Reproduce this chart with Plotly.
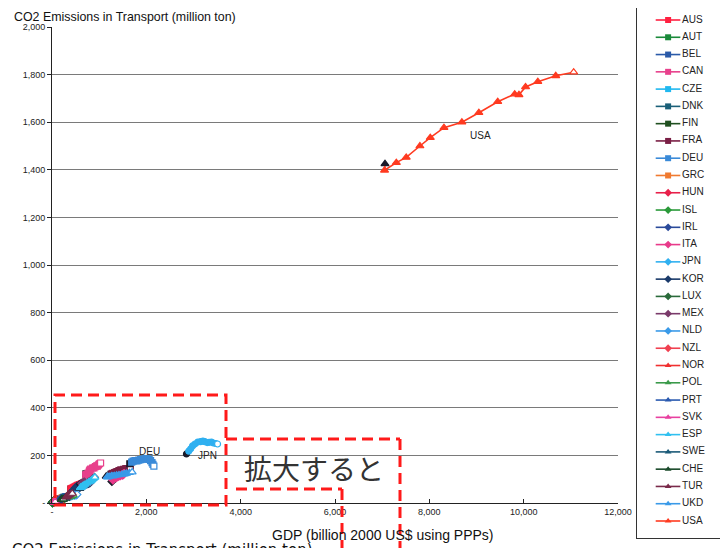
import plotly.graph_objects as go

# ---------------- data (GDP billion 2000 US$ PPP, transport CO2 million ton) ----------------
countries = ["AUS", "AUT", "BEL", "CAN", "CZE", "DNK", "FIN", "FRA", "DEU", "GRC",
             "HUN", "ISL", "IRL", "ITA", "JPN", "KOR", "LUX", "MEX", "NLD", "NZL",
             "NOR", "POL", "PRT", "SVK", "ESP", "SWE", "CHE", "TUR", "UKD", "USA"]

AUS_x = [400, 400, 420, 430, 450, 470, 490, 510, 530, 550, 560, 580, 590, 610, 630]
AUS_y = [58, 58, 60, 62, 64, 66, 68, 70, 72, 74, 74, 75, 77, 78, 80]
AUT_x = [180, 190, 200, 210, 220, 230, 240, 245]
AUT_y = [14, 16, 16, 17, 18, 20, 22, 24]
BEL_x = [230, 240, 250, 260, 270, 285, 295, 305]
BEL_y = [20, 21, 22, 23, 24, 25, 26, 27]
CAN_x = [720, 715, 735, 765, 790, 800, 820, 860, 890, 920, 950, 960, 985, 1005, 1030]
CAN_y = [122, 118, 120, 126, 133, 138, 142, 147, 148, 153, 156, 155, 160, 165, 168]
CZE_x = [140, 125, 128, 140, 142, 150, 158, 165]
CZE_y = [8, 7, 8, 11, 12, 14, 15, 17]
DNK_x = [120, 124, 131, 139, 146, 155, 157, 161]
DNK_y = [10, 11, 11, 12, 12, 12, 13, 13]
FIN_x = [110, 102, 104, 113, 126, 137, 142, 150]
FIN_y = [13, 12, 12, 12, 13, 13, 13, 14]
FRA_x = [1250, 1270, 1290, 1300, 1330, 1360, 1380, 1420, 1460, 1520, 1560, 1580, 1600, 1630, 1660]
FRA_y = [120, 122, 125, 123, 128, 130, 132, 136, 139, 141, 143, 144, 144, 143, 142]
DEU_x = [1650, 1690, 1720, 1760, 1800, 1840, 1880, 1930, 1980, 2020, 2060, 2090, 2120, 2140, 2160]
DEU_y = [165, 172, 176, 178, 177, 180, 182, 184, 186, 185, 183, 178, 170, 162, 155]
GRC_x = [140, 145, 148, 156, 167, 179, 193, 211]
GRC_y = [13, 14, 15, 16, 17, 18, 19, 21]
HUN_x = [120, 103, 106, 107, 117, 126, 136, 148]
HUN_y = [9, 8, 8, 8, 8, 9, 11, 12]
ISL_x = [7, 7, 8, 9, 10]
ISL_y = [0.6, 0.6, 0.6, 0.7, 0.8]
IRL_x = [50, 52, 56, 66, 80, 97, 110, 120]
IRL_y = [5, 5, 6, 7, 9, 11, 12, 13]
ITA_x = [1270, 1290, 1300, 1290, 1320, 1360, 1370, 1400, 1420, 1450, 1490, 1510, 1520, 1510, 1530]
ITA_y = [90, 97, 101, 103, 105, 106, 108, 111, 113, 115, 117, 119, 121, 122, 124]
JPN_x = [2850, 2900, 2940, 2980, 3030, 3090, 3150, 3200, 3240, 3290, 3330, 3380, 3420, 3470, 3510]
JPN_y = [206, 218, 228, 240, 248, 256, 258, 260, 258, 254, 255, 256, 252, 250, 248]
KOR_x = [390, 430, 460, 490, 530, 580, 620, 660, 590, 650, 700, 730, 750, 770, 800]
KOR_y = [40, 48, 55, 63, 70, 76, 80, 80, 65, 72, 77, 80, 81, 82, 84]
LUX_x = [14, 16, 17, 18, 20, 24, 25, 27]
LUX_y = [3, 4, 4, 5, 5, 5, 6, 7]
MEX_x = [600, 630, 660, 690, 650, 680, 720, 770, 800, 840, 850, 850, 860, 870, 900]
MEX_y = [80, 83, 87, 88, 80, 82, 85, 88, 90, 94, 95, 97, 99, 102, 108]
NLD_x = [370, 390, 410, 440, 480, 510, 510, 530]
NLD_y = [27, 28, 30, 31, 33, 34, 35, 36]
NZL_x = [60, 61, 67, 71, 73, 77, 83, 89]
NZL_y = [8, 8, 10, 11, 11, 12, 13, 14]
NOR_x = [120, 128, 139, 151, 162, 170, 175, 182]
NOR_y = [11, 11, 12, 13, 13, 12, 13, 14]
POL_x = [280, 260, 280, 310, 350, 390, 400, 430, 450]
POL_y = [21, 20, 20, 22, 25, 28, 27, 31, 33]
PRT_x = [140, 148, 148, 160, 173, 186, 191, 191]
PRT_y = [10, 12, 13, 14, 16, 19, 19, 19]
SVK_x = [50, 40, 45, 51, 56, 58, 63, 70]
SVK_y = [4, 3, 3, 4, 4, 5, 5, 6]
ESP_x = [590, 610, 600, 610, 630, 650, 670, 700, 740, 780, 810, 830, 850, 880, 910]
ESP_y = [60, 64, 63, 66, 67, 71, 74, 78, 83, 88, 91, 94, 98, 103, 108]
SWE_x = [200, 195, 210, 220, 235, 255, 265, 280]
SWE_y = [19, 19, 20, 20, 20, 21, 21, 21]
CHE_x = [200, 200, 205, 215, 230, 235, 240, 245]
CHE_y = [15, 14, 15, 15, 16, 16, 16, 16]
TUR_x = [300, 320, 300, 340, 360, 340, 380, 350, 400, 430]
TUR_y = [26, 27, 25, 30, 35, 35, 36, 33, 38, 40]
UKD_x = [1150, 1170, 1180, 1210, 1260, 1290, 1320, 1370, 1420, 1480, 1520, 1550, 1580, 1640, 1700]
UKD_y = [112, 110, 109, 111, 114, 113, 115, 117, 118, 120, 121, 122, 124, 127, 130]
USA_x = [7060, 7050, 7300, 7510, 7800, 8020, 8310, 8690, 9050, 9450, 9810, 9900, 10040, 10300, 10680, 11060]
USA_y = [1425, 1398, 1430, 1452, 1500, 1535, 1577, 1600, 1640, 1686, 1718, 1715, 1748, 1770, 1795, 1810]

x_ticks = [0, 2000, 4000, 6000, 8000, 10000, 12000]
x_ticktext = ["-", "2,000", "4,000", "6,000", "8,000", "10,000", "12,000"]
y_ticks = [0, 200, 400, 600, 800, 1000, 1200, 1400, 1600, 1800, 2000]
y_ticktext = ["-", "200", "400", "600", "800", "1,000", "1,200", "1,400", "1,600", "1,800", "2,000"]

labels = {"USA": (9090, 1546), "DEU": (2070, 216), "JPN": (3290, 198)}

# ---------------- styles ----------------
series = [
    ("AUS", AUS_x, AUS_y, "#ff2040", "square"),
    ("AUT", AUT_x, AUT_y, "#1a8a3a", "square"),
    ("BEL", BEL_x, BEL_y, "#2a5aa8", "square"),
    ("CAN", CAN_x, CAN_y, "#e8408c", "square"),
    ("CZE", CZE_x, CZE_y, "#20b8f0", "square"),
    ("DNK", DNK_x, DNK_y, "#1a5f78", "square"),
    ("FIN", FIN_x, FIN_y, "#1f4f1f", "square"),
    ("FRA", FRA_x, FRA_y, "#7a1f45", "square"),
    ("DEU", DEU_x, DEU_y, "#3a8ad8", "square"),
    ("GRC", GRC_x, GRC_y, "#f07a30", "square"),
    ("HUN", HUN_x, HUN_y, "#e8204a", "diamond"),
    ("ISL", ISL_x, ISL_y, "#2a9a3a", "diamond"),
    ("IRL", IRL_x, IRL_y, "#2a4a9a", "diamond"),
    ("ITA", ITA_x, ITA_y, "#e83a8a", "diamond"),
    ("JPN", JPN_x, JPN_y, "#30b0f0", "circle"),
    ("KOR", KOR_x, KOR_y, "#1a3a6a", "diamond"),
    ("LUX", LUX_x, LUX_y, "#2a6a3a", "diamond"),
    ("MEX", MEX_x, MEX_y, "#7a3a6a", "diamond"),
    ("NLD", NLD_x, NLD_y, "#3a9ae8", "diamond"),
    ("NZL", NZL_x, NZL_y, "#f04050", "diamond"),
    ("NOR", NOR_x, NOR_y, "#f03030", "triangle-up"),
    ("POL", POL_x, POL_y, "#3a9a4a", "triangle-up"),
    ("PRT", PRT_x, PRT_y, "#2a5ab0", "triangle-up"),
    ("SVK", SVK_x, SVK_y, "#e840a0", "triangle-up"),
    ("ESP", ESP_x, ESP_y, "#30c0f0", "triangle-up"),
    ("SWE", SWE_x, SWE_y, "#1a5a78", "triangle-up"),
    ("CHE", CHE_x, CHE_y, "#1a4a2a", "triangle-up"),
    ("TUR", TUR_x, TUR_y, "#7a2a4a", "triangle-up"),
    ("UKD", UKD_x, UKD_y, "#3a9ae8", "triangle-up"),
    ("USA", USA_x, USA_y, "#ff3a20", "triangle-up"),
]
legend_symbol = {"JPN": "diamond"}

FONT = "Liberation Sans, Arial, sans-serif"
fig = go.Figure()

for name, xs, ys, col, sym in series:
    n = len(xs)
    fill = ["#1a1a2a"] + [col] * (n - 2) + ["white"]
    edge = ["#1a1a2a"] + [col] * (n - 1)
    fig.add_trace(go.Scatter(
        x=xs, y=ys, mode="lines+markers", name=name, showlegend=False,
        line=dict(color=col, width=1.6),
        marker=dict(symbol=sym, size=6 if sym != "triangle-up" else 7, color=fill,
                    line=dict(color=edge, width=1.2)),
        xaxis="x", yaxis="y", cliponaxis=False))

for name, (lx, ly) in labels.items():
    fig.add_annotation(x=lx, y=ly, xref="x", yref="y", text=name, showarrow=False,
                       font=dict(family=FONT, size=10, color="#222"))

# ---------------- placement helpers (target picture pixels -> figure paper coords) ----------------
W, H = 724, 546
OFF = 8.0   # page margin around the figure


def fx(r):
    return r - OFF


def fy(r):
    return r - OFF


def px(r):
    return fx(r) / W


def py(r):
    return 1 - fy(r) / H


# ---------------- legend drawn in its own axes ----------------
leg_top, leg_bot = max(fy(5), 0.0), fy(538)
first, last = fy(20), fy(521)
unit = (last - first) / 29.0
leg_range = [29 + (leg_bot - last) / unit, -(first - leg_top) / unit]

for i, (name, xs, ys, col, sym) in enumerate(series):
    fig.add_trace(go.Scatter(x=[0.22, 0.51], y=[i, i], mode="lines", showlegend=False,
                             line=dict(color=col, width=1.6), xaxis="x3", yaxis="y3",
                             hoverinfo="skip"))
    fig.add_trace(go.Scatter(x=[0.366], y=[i], mode="markers", showlegend=False,
                             marker=dict(symbol=legend_symbol.get(name, sym), size=6, color=col,
                                         line=dict(color=col, width=0)),
                             xaxis="x3", yaxis="y3", hoverinfo="skip"))
    fig.add_trace(go.Scatter(x=[0.53], y=[i], mode="text", text=[name], showlegend=False,
                             textposition="middle right",
                             textfont=dict(family=FONT, size=10, color="#222"),
                             xaxis="x3", yaxis="y3", hoverinfo="skip"))

fig.update_layout(
    width=W, height=H, autosize=False,
    margin=dict(l=0, r=0, t=0, b=0, pad=0),
    paper_bgcolor="white", plot_bgcolor="white",
    showlegend=False,
    xaxis=dict(domain=[px(52), px(618)], range=[0, 12000], tickvals=x_ticks, ticktext=x_ticktext,
               showgrid=False, zeroline=False, showline=True, linecolor="#222", linewidth=1,
               ticks="inside", ticklen=4, tickcolor="#222", automargin=False,
               tickfont=dict(family=FONT, size=9, color="#222"), anchor="y"),
    yaxis=dict(domain=[py(503), py(27)], range=[0, 2000], tickvals=y_ticks, ticktext=y_ticktext,
               showgrid=True, gridcolor="#7a7a7a", gridwidth=1, zeroline=False,
               showline=True, linecolor="#222", linewidth=1, automargin=False,
               ticks="outside", ticklen=4, tickcolor="#222",
               tickfont=dict(family=FONT, size=9, color="#222"), anchor="x"),
    xaxis3=dict(domain=[px(637), min(px(722), 1.0)], range=[0, 1], visible=True, showticklabels=False,
                ticks="", showgrid=False, zeroline=False, showline=True, mirror=True,
                linecolor="#333", linewidth=1, anchor="y3", fixedrange=True, automargin=False),
    yaxis3=dict(domain=[1 - leg_bot / H, 1 - leg_top / H], range=leg_range, showticklabels=False,
                ticks="", showgrid=False, zeroline=False, showline=True, mirror=True,
                linecolor="#333", linewidth=1, anchor="x3", fixedrange=True, automargin=False),
)

# axis titles
fig.add_annotation(x=px(12), y=py(17), xref="paper", yref="paper", xanchor="left", yanchor="middle",
                   text="CO2 Emissions in Transport (million ton)", showarrow=False,
                   font=dict(family=FONT, size=12.4, color="#111"))
fig.add_annotation(x=px(383), y=py(535), xref="paper", yref="paper", xanchor="center", yanchor="middle",
                   text="GDP (billion 2000 US$ using PPPs)", showarrow=False,
                   font=dict(family=FONT, size=14, color="#111"))
fig.add_annotation(x=px(10), y=py(550), xref="paper", yref="paper", xanchor="left", yanchor="middle",
                   text="CO2 Emissions in Transport (million ton)", showarrow=False,
                   font=dict(family="DejaVu Sans", size=15, color="#111"))

# red dashed call-out boxes
red = dict(color="#ff1a1a", width=3, dash="11px,6px")
fig.add_shape(type="rect", xref="paper", yref="paper", x0=px(55), x1=px(226), y0=py(505), y1=py(395),
              line=red, layer="above")
for (a, b, c, d) in [(226, 439, 400, 439), (400, 439, 400, 552), (236, 489, 342, 489), (342, 489, 342, 552)]:
    fig.add_shape(type="line", xref="paper", yref="paper", x0=px(a), y0=py(b), x1=px(c), y1=py(d),
                  line=red, layer="above")
fig.add_annotation(x=px(314), y=py(490), xref="paper", yref="paper", text="拡大すると", showarrow=False,
                   font=dict(family="Noto Sans CJK JP", size=28, color="#333"))

fig.write_html("out.html")
